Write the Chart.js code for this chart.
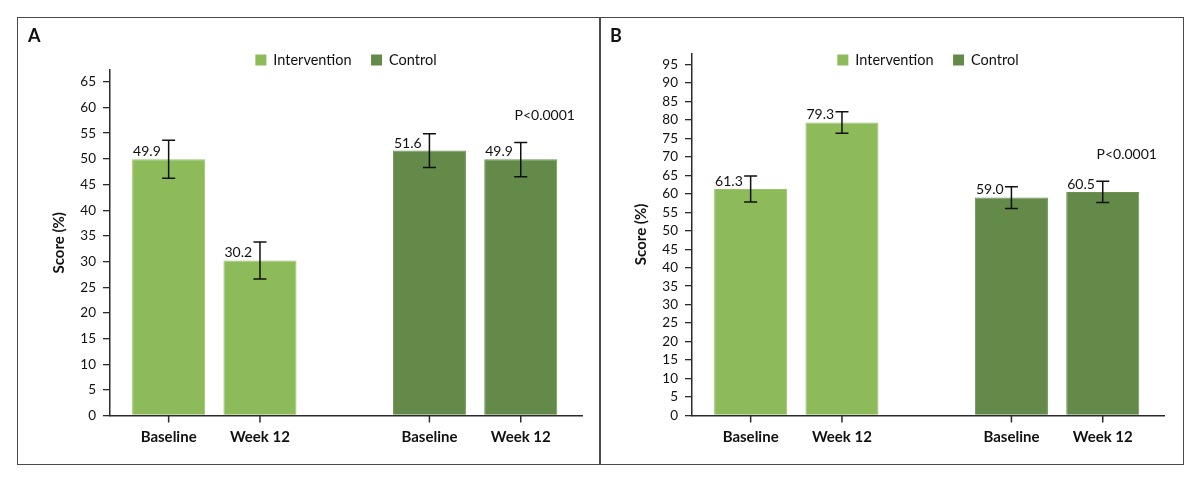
<!DOCTYPE html>
<html><head><meta charset="utf-8">
<script src="https://cdn.jsdelivr.net/npm/chart.js@4.4.1/dist/chart.umd.min.js"></script>
<style>
html,body{margin:0;padding:0;background:#fff;}
#wrap{position:relative;width:1200px;height:484px;overflow:hidden;}
#frame{position:absolute;left:17px;top:17px;width:1167px;height:448px;border:1.5px solid #4a4a4a;box-sizing:border-box;}
#divider{position:absolute;left:599px;top:17px;width:1.5px;height:448px;background:#4a4a4a;}
canvas{position:absolute;}
#cA{left:18px;top:19px;width:581px;height:445px;}
#cB{left:600px;top:19px;width:581px;height:445px;}
</style></head><body>
<div id="wrap"><div id="frame"></div><div id="divider"></div>
<canvas id="cA" width="581" height="445"></canvas>
<canvas id="cB" width="581" height="445"></canvas></div>
<script>
// ---- data ----
const groups = ['Intervention', 'Control'];
const timepoints = ['Baseline', 'Week 12'];

const aBaseline = [49.9, 51.6];
const aWeek12 = [30.2, 49.9];
const aBaselineLow = [46.2, 48.3];
const aBaselineHigh = [53.6, 54.9];
const aWeek12Low = [26.6, 46.5];
const aWeek12High = [33.8, 53.2];

const bBaseline = [61.3, 59.0];
const bWeek12 = [79.3, 60.5];
const bBaselineLow = [57.8, 56.0];
const bBaselineHigh = [64.8, 61.9];
const bWeek12Low = [76.4, 57.6];
const bWeek12High = [82.2, 63.4];

const pLabel = 'P<0.0001';
const yTitle = 'Score (%)';

// ---- styles ----
const groupColors = ['#8dbb5a', '#638a48'];
const groupBorders = ['#99c26b', '#6e9354'];
const INK = '#111111';
const AXIS = '#2b2b2b';
const FONT = 'Lato, "Open Sans", sans-serif';
Chart.defaults.font.family = FONT;
Chart.defaults.color = INK;

function makeDatasets(base, wk, bLo, bHi, wLo, wHi) {
  return [
    { label: timepoints[0], data: base.map((v, i) => ({ x: i, y: v })), low: bLo, high: bHi,
      backgroundColor: groupColors, borderColor: groupBorders, borderWidth: 1 },
    { label: timepoints[1], data: wk.map((v, i) => ({ x: i, y: v })), low: wLo, high: wHi,
      backgroundColor: groupColors, borderColor: groupBorders, borderWidth: 1 }
  ];
}

const annot = {
  id: 'annot',
  afterDatasetsDraw(chart, args, opts) {
    const ctx = chart.ctx, y = chart.scales.y, area = chart.chartArea;
    ctx.save();
    ctx.lineWidth = 1.5;
    ctx.strokeStyle = INK;
    ctx.fillStyle = INK;
    chart.data.datasets.forEach((ds, di) => {
      const meta = chart.getDatasetMeta(di);
      meta.data.forEach((bar, i) => {
        const x = bar.x;
        const lo = y.getPixelForValue(ds.low[i]);
        const hi = y.getPixelForValue(ds.high[i]);
        ctx.beginPath();
        ctx.moveTo(x, lo); ctx.lineTo(x, hi);
        ctx.moveTo(x - 6.5, lo); ctx.lineTo(x + 6.5, lo);
        ctx.moveTo(x - 6.5, hi); ctx.lineTo(x + 6.5, hi);
        ctx.stroke();
        ctx.font = '14px ' + FONT;
        ctx.textAlign = 'left'; ctx.textBaseline = 'alphabetic';
        ctx.fillText(ds.data[i].y.toFixed(1), x - bar.width / 2 + 1, bar.y - 3);
        // category tick + label
        ctx.strokeStyle = AXIS;
        ctx.beginPath(); ctx.moveTo(x, area.bottom); ctx.lineTo(x, area.bottom + 7); ctx.stroke();
        ctx.strokeStyle = INK;
        ctx.font = 'bold 15px ' + FONT;
        ctx.textAlign = 'center'; ctx.textBaseline = 'middle';
        ctx.fillText(ds.label, x, area.bottom + 22);
      });
    });
    // P value above last bar
    const lastDs = chart.data.datasets.length - 1;
    const lastMeta = chart.getDatasetMeta(lastDs);
    const lastI = lastMeta.data.length - 1;
    const lastBar = lastMeta.data[lastI];
    const capTop = y.getPixelForValue(chart.data.datasets[lastDs].high[lastI]);
    ctx.font = '14px ' + FONT;
    ctx.textAlign = 'center'; ctx.textBaseline = 'middle';
    ctx.fillText(pLabel, lastBar.x + 24, capTop - 27);
    // legend
    ctx.font = '14.5px ' + FONT;
    const sw = 11, gap = 7, itemGap = 19.5;
    const widths = groups.map(g => sw + gap + ctx.measureText(g).width);
    const total = widths.reduce((a, b) => a + b, 0) + itemGap * (groups.length - 1);
    let lx = (area.left + area.right) / 2 - total / 2;
    const ly = 41;
    groups.forEach((g, i) => {
      ctx.fillStyle = groupColors[i];
      ctx.fillRect(lx, ly - sw / 2, sw, sw);
      ctx.fillStyle = INK;
      ctx.textAlign = 'left'; ctx.textBaseline = 'middle';
      ctx.fillText(g, lx + sw + gap, ly + 0.5);
      lx += widths[i] + itemGap;
    });
    // panel letter
    ctx.font = 'bold 18px ' + FONT;
    ctx.textAlign = 'left'; ctx.textBaseline = 'alphabetic';
    ctx.fillText(opts.letter, 10, 23);
    ctx.restore();
  }
};

function makeChart(id, letter, datasets, yMax, topPad) {
  return new Chart(document.getElementById(id), {
    type: 'bar',
    data: { datasets },
    plugins: [annot],
    options: {
      responsive: false,
      animation: false,
      devicePixelRatio: 1,
      layout: { padding: { left: 0, right: 17, top: topPad, bottom: 48.5 } },
      categoryPercentage: 0.7004,
      barPercentage: 0.8,
      plugins: {
        legend: { display: false },
        tooltip: { enabled: false },
        annot: { letter }
      },
      scales: {
        x: {
          type: 'linear', min: -0.4, max: 1.41, offset: false,
          grid: { display: false },
          ticks: { display: false },
          border: { display: true, color: AXIS, width: 1.5 },
          afterBuildTicks: s => { s.ticks = [{ value: 0 }, { value: 1 }]; },
          afterFit: s => { s.height = 0; }
        },
        y: {
          min: 0, max: yMax,
          ticks: { stepSize: 5, includeBounds: false, autoSkip: false, padding: 7, color: INK, font: { size: 13.5 } },
          grid: { display: true, drawOnChartArea: false, drawTicks: true, tickLength: 7, color: AXIS, lineWidth: 1.3 },
          border: { display: true, color: AXIS, width: 1.5 },
          title: { display: true, text: yTitle, color: INK, font: { size: 15, weight: 'bold' }, padding: { top: 32, bottom: 0 } },
          afterFit: s => { s.width = 92; }
        }
      }
    }
  });
}

makeChart('cA', 'A', makeDatasets(aBaseline, aWeek12, aBaselineLow, aBaselineHigh, aWeek12Low, aWeek12High), 67.3, 51);
makeChart('cB', 'B', makeDatasets(bBaseline, bWeek12, bBaselineLow, bBaselineHigh, bWeek12Low, bWeek12High), 98, 34.3);
</script>
</body></html>
